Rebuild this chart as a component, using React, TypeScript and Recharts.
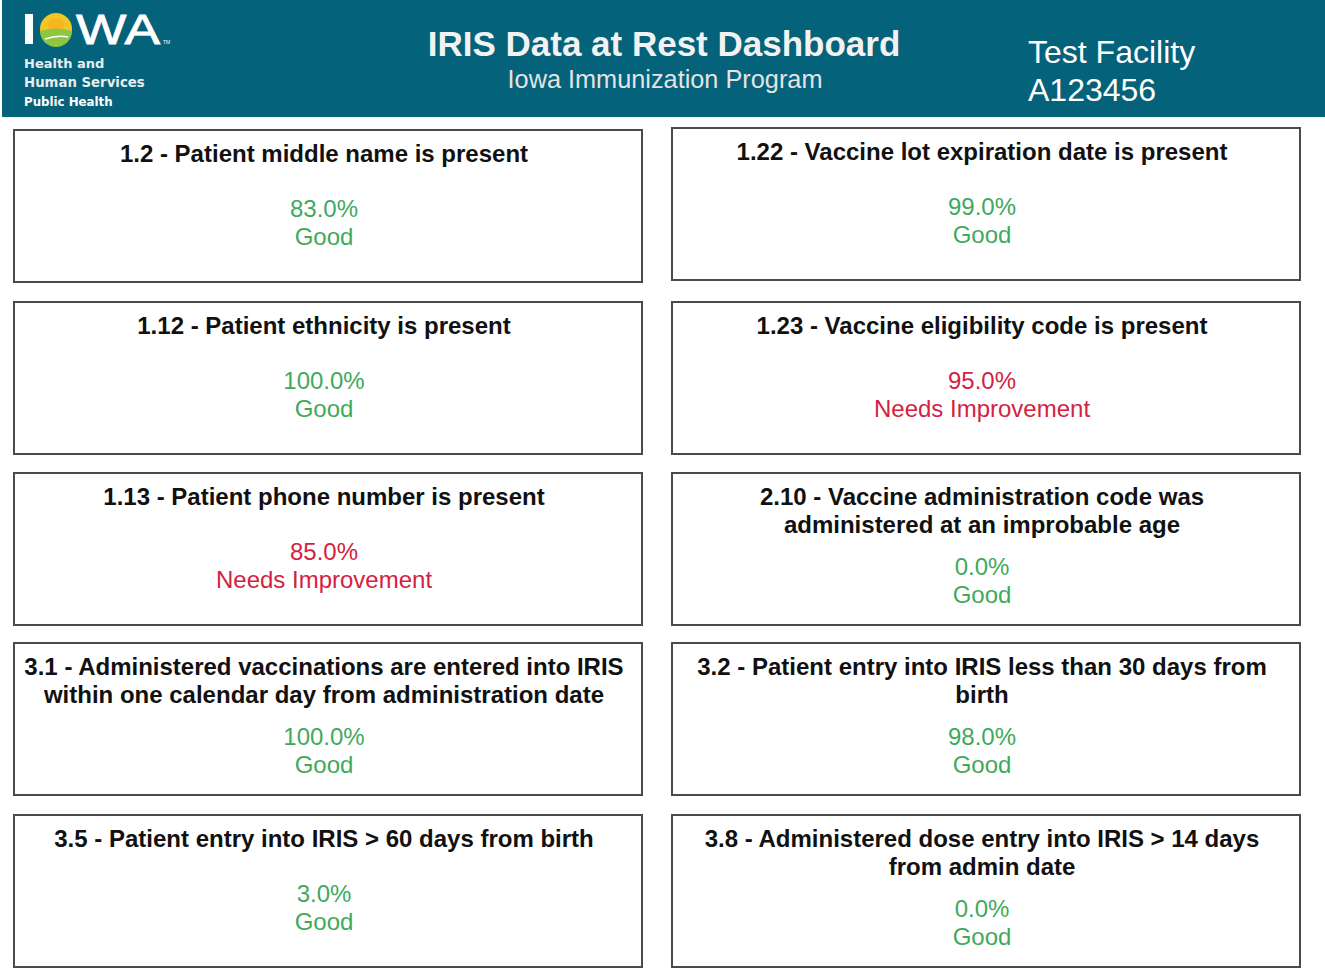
import { Surface, Layer, Rectangle, Text } from "recharts";

// measure cards, in reading order (left, right, left, right ...)
const measureIds = ["1.2", "1.22", "1.12", "1.23", "1.13", "2.10", "3.1", "3.2", "3.5", "3.8"];
const measureTitles = [
  ["Patient middle name is present"],
  ["Vaccine lot expiration date is present"],
  ["Patient ethnicity is present"],
  ["Vaccine eligibility code is present"],
  ["Patient phone number is present"],
  ["Vaccine administration code was", "administered at an improbable age"],
  ["Administered vaccinations are entered into IRIS", "within one calendar day from administration date"],
  ["Patient entry into IRIS less than 30 days from", "birth"],
  ["Patient entry into IRIS > 60 days from birth"],
  ["Administered dose entry into IRIS > 14 days", "from admin date"],
];
const percents = [83.0, 99.0, 100.0, 95.0, 85.0, 0.0, 100.0, 98.0, 3.0, 0.0];
const statuses = [
  "Good",
  "Good",
  "Good",
  "Needs Improvement",
  "Needs Improvement",
  "Good",
  "Good",
  "Good",
  "Good",
  "Good",
];

const facilityName = "Test Facility";
const facilityId = "A123456";

const W = 1325;
const H = 970;
const TEAL = "#04627a";
const GREEN = "#3fa95c";
const RED = "#d3223f";
const FONT = "'Liberation Sans', Arial, sans-serif";
const LOGO_FONT = "'DejaVu Sans', sans-serif";

const colX = [14, 672];
const cardW = 628;
const cardH = 152;
const rowTops = [
  [130, 128],
  [302, 302],
  [473, 473],
  [643, 643],
  [815, 815],
];

function MeasureCard({ i }: { i: number }) {
  const col = i % 2;
  const row = Math.floor(i / 2);
  const x = colX[col];
  const y = rowTops[row][col];
  const cx = x + cardW / 2 - 4;
  const lines = measureTitles[i];
  const twoLine = lines.length > 1;
  const valueY = y + (twoLine ? 93 : 78);
  const color = statuses[i] === "Good" ? GREEN : RED;

  return (
    <Layer>
      <Rectangle
        x={x}
        y={y}
        width={cardW}
        height={cardH}
        fill="#fff"
        stroke="#4a4a4a"
        strokeWidth={2}
      />
      {lines.map((line, k) => (
        <Text
          key={k}
          x={cx}
          y={y + 23 + k * 28}
          textAnchor="middle"
          verticalAnchor="middle"
          fontFamily={FONT}
          fontWeight="bold"
          fontSize={24}
          fill="#111"
        >
          {k === 0 ? `${measureIds[i]} - ${line}` : line}
        </Text>
      ))}
      <Text
        x={cx}
        y={valueY}
        textAnchor="middle"
        verticalAnchor="middle"
        fontFamily={FONT}
        fontSize={24}
        fill={color}
      >
        {`${percents[i].toFixed(1)}%`}
      </Text>
      <Text
        x={cx}
        y={valueY + 28}
        textAnchor="middle"
        verticalAnchor="middle"
        fontFamily={FONT}
        fontSize={24}
        fill={color}
      >
        {statuses[i]}
      </Text>
    </Layer>
  );
}

function Header() {
  return (
    <Layer>
      <rect x={2} y={0} width={W - 2} height={117} fill={TEAL} />
      {/* logo */}
      <rect x={25} y={14} width={8} height={30} fill="#fff" />
      <circle cx={56} cy={29} r={16} fill="#f3c623" />
      <circle cx={56} cy={26} r={8} fill="#f7a823" opacity={0.55} />
      <path d="M40 31 Q56 26 72 31 A16 16 0 0 1 40 31 Z" fill="#8dc641" />
      <path d="M45 39 Q57 35 68 37" stroke="#fff" strokeWidth={1.5} fill="none" />
      <text
        x={76}
        y={44}
        fill="#fff"
        fontFamily={FONT}
        fontSize={42}
        stroke="#fff"
        strokeWidth={0.8}
        textLength={84}
        lengthAdjust="spacingAndGlyphs"
      >
        WA
      </text>
      <text x={163} y={44} fill="#fff" fontFamily={FONT} fontSize={5}>
        TM
      </text>
      <text x={24} y={68} fill="#e6eef0" fontFamily={LOGO_FONT} fontWeight="bold" fontSize={13}>
        Health and
      </text>
      <text x={24} y={87} fill="#e6eef0" fontFamily={LOGO_FONT} fontWeight="bold" fontSize={13.3}>
        Human Services
      </text>
      <text x={24} y={106} fill="#fff" fontFamily={LOGO_FONT} fontWeight="bold" fontSize={11.8}>
        Public Health
      </text>

      <Text
        x={664}
        y={44}
        textAnchor="middle"
        verticalAnchor="middle"
        fontFamily={FONT}
        fontWeight="bold"
        fontSize={35}
        fill="#f2f2f2"
      >
        IRIS Data at Rest Dashboard
      </Text>
      <Text
        x={665}
        y={79}
        textAnchor="middle"
        verticalAnchor="middle"
        fontFamily={FONT}
        fontSize={25.3}
        fill="#e3e3e3"
      >
        Iowa Immunization Program
      </Text>
      <Text x={1028} y={52} verticalAnchor="middle" fontFamily={FONT} fontSize={32} fill="#fff">
        {facilityName}
      </Text>
      <Text x={1028} y={90} verticalAnchor="middle" fontFamily={FONT} fontSize={32} fill="#fff">
        {facilityId}
      </Text>
    </Layer>
  );
}

export default function App() {
  return (
    <div style={{ position: "absolute", left: 0, top: 0, width: W, height: H, background: "#fff" }}>
      <Surface width={W} height={H}>
        <Header />
        {measureIds.map((_, i) => (
          <MeasureCard key={i} i={i} />
        ))}
      </Surface>
    </div>
  );
}
